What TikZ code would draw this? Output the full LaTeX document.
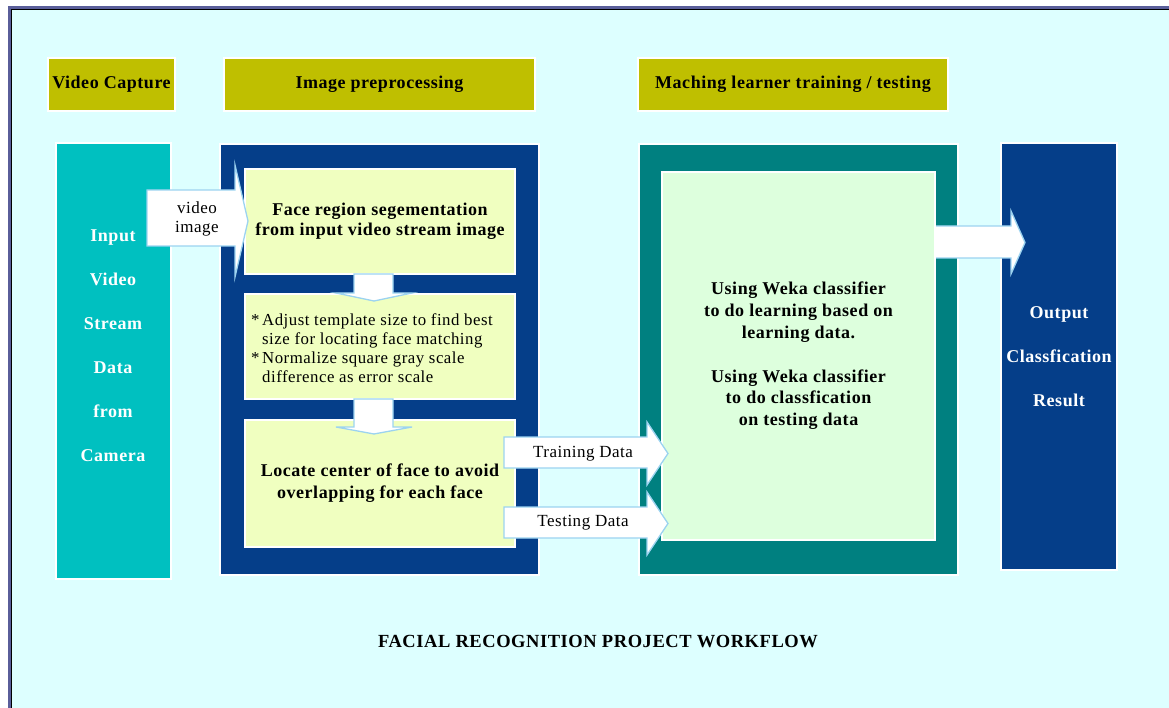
\documentclass[tikz,border=0pt]{standalone}
\usepackage{fontspec}
\setmainfont{Liberation Serif}[LetterSpace=3]
\definecolor{bgcyan}{HTML}{DDFFFF}
\definecolor{frameslate}{HTML}{5A5E9A}
\definecolor{olive}{HTML}{BFBF00}
\definecolor{incyan}{HTML}{00C0C0}
\definecolor{navy}{HTML}{053E89}
\definecolor{paleyellow}{HTML}{F0FFC0}
\definecolor{tealbox}{HTML}{008080}
\definecolor{palegreen}{HTML}{DDFFDD}
\definecolor{arrowblue}{HTML}{9CD3F0}
\tikzset{
  box/.style={draw=white, line width=1.2pt, inner sep=0pt, outer sep=0pt, anchor=north west, align=center},
  hdr/.style={box, fill=olive, line width=2pt, minimum height=53pt, font=\fontsize{18}{20}\selectfont\bfseries},
  bold/.style={font=\fontsize{18}{20}\selectfont\bfseries, align=center},
  plain/.style={font=\fontsize{17}{19}\selectfont, align=center},
  blockarrow/.style={fill=white, draw=arrowblue, line width=1.3pt, line join=miter},
}
% left x, body top, body bottom, head base x, head top, head bottom, tip x
\newcommand\hblockarrow[7]{%
  \draw[blockarrow] (#1,#2) -- (#4,#2) -- (#4,#5) -- (#7,{(#5+#6)/2}) -- (#4,#6) -- (#4,#3) -- (#1,#3) -- cycle;}
% top y, body left, body right, head base y, head left, head right, tip y
\newcommand\vblockarrow[7]{%
  \draw[blockarrow] (#2,#1) -- (#2,#4) -- (#5,#4) -- ({(#5+#6)/2},#7) -- (#6,#4) -- (#3,#4) -- (#3,#1) -- cycle;}
\begin{document}
\begin{tikzpicture}[x=1pt,y=-1pt]
\path[use as bounding box] (0,0) rectangle (1169,708);
\fill[white] (0,0) rectangle (1169,708);
\fill[frameslate] (7.5,6) rectangle (1169,708);
\fill[black] (10.5,8.6) rectangle (1169,708);
\fill[bgcyan] (11.6,9.8) rectangle (1169,708);

% headers
\node[hdr, minimum width=127pt] (hvc) at (48,58) {Video Capture};
\node[hdr, minimum width=311pt] (hip) at (224,58) {Image preprocessing};
\node[hdr, minimum width=310pt] (hml) at (638,58) {Maching learner training / testing};

% video input column
\node[box, fill=incyan, minimum width=115pt, minimum height=436pt] (cam) at (56,143) {};
\node[bold, text=white, font=\fontsize{18}{44}\selectfont\bfseries] (camtext) at (113,346)
  {Input\\Video\\Stream\\Data\\from\\Camera};

% preprocessing
\node[box, fill=navy, minimum width=319pt, minimum height=431pt] (pre) at (220,144) {};
\node[box, fill=paleyellow, minimum width=270pt, minimum height=105pt, font=\fontsize{18}{20}\selectfont\bfseries] (seg) at (245,169)
  {Face region segementation\\from input video stream image};
\node[box, fill=paleyellow, minimum width=270pt, minimum height=105pt] (tmpl) at (245,294) {};
\node[anchor=west, align=left, inner sep=0pt, font=\fontsize{16.8}{19}\selectfont] (tmpltext) at (251,348)
  {\makebox[11pt][l]{*}Adjust template size to find best\\
   \hspace*{11pt}size for locating face matching\\
   \makebox[11pt][l]{*}Normalize square gray scale\\
   \hspace*{11pt}difference as error scale};
\node[box, fill=paleyellow, minimum width=270pt, minimum height=127pt, font=\fontsize{18}{22}\selectfont\bfseries] (loc) at (245,420)
  {Locate center of face to avoid\\overlapping for each face};

% learner and output
\node[box, fill=tealbox, minimum width=319pt, minimum height=431pt] (learn) at (639,144) {};
\node[box, fill=navy, minimum width=116pt, minimum height=427pt, text=white, font=\fontsize{18}{44}\selectfont\bfseries] (out) at (1001,143)
  {Output\\Classfication\\Result};
\hblockarrow{931}{226}{258}{1011}{211}{274}{1025}
\node[box, fill=palegreen, minimum width=273pt, minimum height=368pt, font=\fontsize{18}{21.8}\selectfont\bfseries] (weka) at (662,172)
  {Using Weka classifier\\to do learning based on\\learning data.\\[21.8pt]Using Weka classifier\\to do classfication\\on testing data};

% block arrows
\hblockarrow{147}{190}{246}{235}{165}{277}{248}
\node[plain] (vidlbl) at (197,219) {video\\image};
\vblockarrow{274}{354}{393}{293}{336}{412}{301}
\vblockarrow{399}{354}{393}{427}{336}{412}{434}
\hblockarrow{504}{437}{468}{647}{422}{485}{668}
\node[plain] (trainlbl) at (583,454) {Training Data};
\hblockarrow{504}{507}{538}{647}{492}{555}{668}
\node[plain] (testlbl) at (583,523) {Testing Data};

% title
\node[bold, font=\fontsize{18.5}{20}\selectfont\bfseries] (title) at (598,642) {FACIAL RECOGNITION PROJECT WORKFLOW};
\end{tikzpicture}
\end{document}
